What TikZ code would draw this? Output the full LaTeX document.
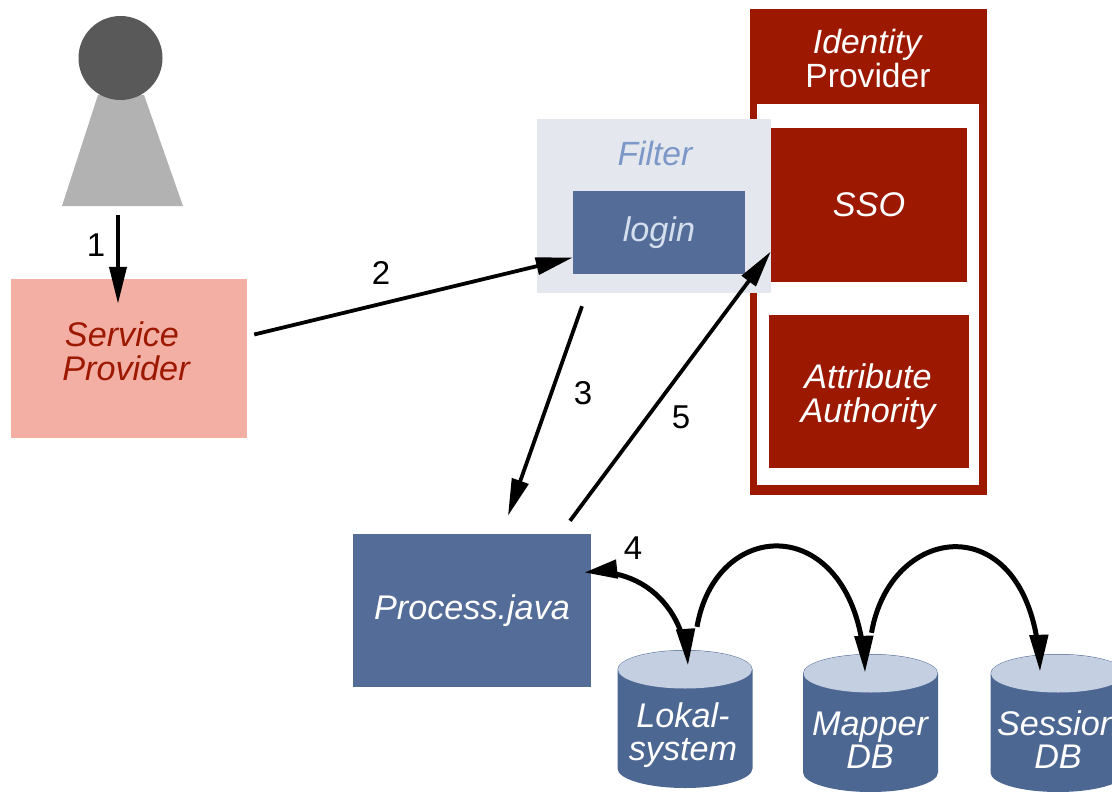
\documentclass[tikz,border=0pt]{standalone}
\usepackage{fontspec}
\setmainfont{Liberation Sans}
\usetikzlibrary{arrows.meta,bending}
\definecolor{ipred}{HTML}{9C1900}
\definecolor{blueb}{HTML}{546D98}
\definecolor{cylbody}{HTML}{4D6793}
\definecolor{cyltop}{HTML}{C4D0E2}
\definecolor{filterbg}{HTML}{E4E7ED}
\definecolor{filtertxt}{HTML}{7B98C8}
\definecolor{logintxt}{HTML}{D5DEEC}
\definecolor{salmon}{HTML}{F4AFA4}
\begin{document}
\begin{tikzpicture}[x=1pt,y=-1pt,
		box/.style={rectangle,inner sep=0pt,align=center,font=\fontsize{34.2}{34}\selectfont\itshape},
		redbox/.style={box,fill=ipred,text=white},
		bluebox/.style={box,fill=blueb,text=white},
		dbnode/.style={rectangle,inner sep=0pt,minimum width=135pt,minimum height=138pt},
		dbtext/.style={align=center,text=white,inner sep=0pt,font=\fontsize{34.2}{33}\selectfont\itshape},
		num/.style={inner sep=0pt,font=\fontsize{33}{34}\selectfont},
		flow/.style={draw=black,line width=3.8pt,-{Triangle[length=37pt,width=17pt]}},
		hop/.style={draw=black,line width=5pt,-{Triangle[length=37pt,width=18pt,flex=0]}}]
		\useasboundingbox (0,0) rectangle (1112,792);
		\clip (0,0) rectangle (1112,792);
		\fill[white] (0,0) rectangle (1112,792);
		\fill[black!30] (62,206) -- (98,95) -- (144,95) -- (183,206) -- cycle;
		\node[circle,fill=black!65,inner sep=0pt,minimum size=84pt] (head) at (120.5,58) {};
		\coordinate (feet) at (118,215);
		\node[box,fill=salmon,minimum width=236pt,minimum height=159pt] (sp) at (129,358.5) {};
		\node[box,text=ipred] (sptxt) at (126,351) {Service\hspace*{8pt}\\Provider};
		\node[redbox,minimum width=237pt,minimum height=486pt] (idp) at (868.5,252) {};
		\node[rectangle,fill=white,inner sep=0pt,minimum width=222pt,minimum height=381pt] (idpinner) at (868,294.5) {};
		\node[inner sep=0pt,align=center,text=white,font=\fontsize{33.6}{34}\selectfont] (idptitle) at (868,58) {\textit{Identity}\\Provider};
		\node[rectangle,fill=filterbg,inner sep=0pt,minimum width=234pt,minimum height=174pt] (filter) at (654,206) {};
		\node[inner sep=0pt,text=filtertxt,font=\fontsize{33.6}{34}\selectfont\itshape] (filtertitle) at (655,153) {Filter};
		\node[bluebox,text=logintxt,minimum width=172pt,minimum height=83pt] (login) at (659,232.5) {login};
		\node[redbox,minimum width=196pt,minimum height=154pt] (sso) at (869,204.5) {SSO};
		\node[redbox,minimum width=200pt,minimum height=153pt] (attr) at (869,391.5) {};
		\node[box,text=white] (attrtxt) at (868,397) {Attribute\\Authority};
		\node[bluebox,minimum width=238pt,minimum height=153pt] (proc) at (472,610.5) {Process.java};
		\foreach \nm/\cx/\cy in {lokal/685/719,mapper/870.5/723,session/1058/723}{
			\fill[cylbody] (\cx-67.5,\cy-49.5) -- (\cx-67.5,\cy+49.5) arc[start angle=180,end angle=0,x radius=67.5,y radius=19.5] -- (\cx+67.5,\cy-49.5) arc[start angle=0,end angle=-180,x radius=67.5,y radius=19.5] -- cycle;
			\fill[cyltop] (\cx,\cy-49.5) ellipse[x radius=67,y radius=19];
			\node[dbnode] (\nm) at (\cx,\cy) {};
		}
		\node[dbtext] (lokaltxt) at (683,735) {Lokal-\\system};
		\node[dbtext] (mappertxt) at (870,740) {Mapper\\DB};
		\node[dbtext] (sessiontxt) at (1058,740) {Session\\DB};
		\draw[flow] (feet) -- ([xshift=-11pt,yshift=-25pt]sp.north);
		\draw[flow] ([xshift=7pt,yshift=24pt]sp.east) -- ([yshift=-25pt]login.west);
		\draw[flow] ([xshift=-77pt,yshift=-32pt]login.south) -- ([xshift=36pt,yshift=18pt]proc.north);
		\draw[flow] ([xshift=98pt,yshift=13pt]proc.north) -- ([yshift=-47pt]sso.west);
		\draw[hop,{Triangle[length=33pt,width=18pt,flex=0]}-{Triangle[length=37pt,width=18pt,flex=0]}] ([xshift=-7pt,yshift=38pt]proc.east) .. controls +(57,-6) and +(-4,-60) .. ([xshift=3pt,yshift=-16pt]lokal.north);
		\draw[hop] ([xshift=12pt,yshift=23pt]lokal.north) .. controls +(20,-115) and +(-5,-160) .. ([xshift=-5.5pt,yshift=-19pt]mapper.north);
		\draw[hop] ([xshift=1pt,yshift=21pt]mapper.north) .. controls +(20,-115) and +(-5,-166) .. ([xshift=-18pt,yshift=-18pt]session.north);
		\node[num] (one) at (96,245) {1};
		\node[num] (two) at (381,273) {2};
		\node[num] (three) at (583,393) {3};
		\node[num] (four) at (633,548) {4};
		\node[num] (five) at (681,417) {5};
	\end{tikzpicture}
\end{document}
